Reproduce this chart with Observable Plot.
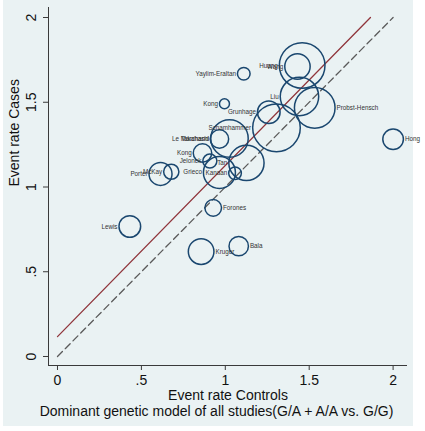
<!DOCTYPE html>
<html>
<head>
<meta charset="utf-8">
<script src="https://cdn.jsdelivr.net/npm/d3@7"></script>
<script src="https://cdn.jsdelivr.net/npm/@observablehq/plot@0.6"></script>
<style>
  html, body { margin: 0; padding: 0; background: white; }
</style>
</head>
<body>
<div id="chart"></div>
<script>
// ---- data ----
const studies = ["Huang","Wang","Yaylim-Eraltan","Kong","Liu","Probst-Hensch","Grunhage","Schamhammer","Hong","Takahashi","Le Marchand","Kong","Jelonek","Tan","Grieco","Kanaan","McKay","Porter","Forones","Lewis","Kruger","Bala"];
const rateControls = [1.458,1.430,1.110,0.995,1.442,1.533,1.259,1.305,2.000,1.025,0.965,0.864,0.908,1.126,0.965,1.058,0.678,0.614,0.928,0.431,0.856,1.080];
const rateCases    = [1.717,1.711,1.668,1.491,1.534,1.467,1.441,1.349,1.282,1.286,1.283,1.201,1.153,1.142,1.086,1.081,1.090,1.077,0.877,0.767,0.619,0.651];
const weights      = [520,161,40,25,369,412,128,566,106,350,85,85,49,310,256,40,58,132,69,117,164,94];

const fitX = [0, 1.865];
const fitY = [0.1175, 2];
const refX = [0, 2];
const refY = [0, 2];

const tickValues = [0, 0.5, 1, 1.5, 2];
const tickLabels = ["0", ".5", "1", "1.5", "2"];

const xTitle = "Event rate Controls";
const yTitle = "Event rate Cases";
const caption = "Dominant genetic model of all studies(G/A + A/A vs. G/G)";

// label placement (style): these studies are labelled to the right of their circle
const labelRight = ["Probst-Hensch","Hong","Forones","Kruger","Bala"];

// ---- build ----
const data = studies.map((s, i) => ({name: s, x: rateControls[i], y: rateCases[i], w: weights[i], right: labelRight.includes(s)}));
const fit = fitX.map((x, i) => ({x, y: fitY[i]}));
const ref = refX.map((x, i) => ({x, y: refY[i]}));
const tickFmt = new Map(tickValues.map((v, i) => [v, tickLabels[i]]));

const xDom = [-0.0536, 2.0858];
const yDom = [-0.0531, 2.059];
const rDom = [0, d3.max(weights)];
const rRange = [0, 23.8];
const rScale = d3.scaleSqrt().domain(rDom).range(rRange);

const navy = "#1a476f";
const axisColor = "#3a3a3a";
const font = "'Liberation Sans', Arial, Helvetica, sans-serif";

const labelMarks = data.map(d => Plot.text([d], {
  x: "x", y: "y", text: "name",
  textAnchor: d.right ? "start" : "end",
  dx: (d.right ? 1 : -1) * (rScale(d.w) + 1.5),
  fontSize: 6.3, fill: "#333"
}));

const plot = Plot.plot({
  width: 425,
  height: 431,
  marginLeft: 48,
  marginRight: 18,
  marginTop: 7,
  marginBottom: 66,
  style: {fontFamily: font, background: "white"},
  x: {domain: xDom},
  y: {domain: yDom},
  r: {type: "sqrt", domain: rDom, range: rRange},
  marks: [
    Plot.frame({fill: "white", stroke: null}),
    Plot.gridY(tickValues, {stroke: "#eaf2f3", strokeOpacity: 1, strokeWidth: 1.2}),
    Plot.axisX(tickValues, {tickSize: 5, tickPadding: 5, fontSize: 14, stroke: axisColor, fill: "#111", tickFormat: d => tickFmt.get(d), label: null}),
    Plot.axisY(tickValues, {tickSize: 5, tickPadding: 8, tickRotate: -90, fontSize: 14, stroke: axisColor, fill: "#111", tickFormat: d => tickFmt.get(d), label: null}),
    Plot.ruleX([xDom[0]], {stroke: axisColor, strokeWidth: 1}),
    Plot.ruleY([yDom[0]], {stroke: axisColor, strokeWidth: 1}),
    Plot.line(ref, {x: "x", y: "y", stroke: "#5a5a5a", strokeWidth: 1.3, strokeDasharray: "7,4"}),
    Plot.line(fit, {x: "x", y: "y", stroke: "#90353b", strokeWidth: 1.3}),
    Plot.dot(data, {x: "x", y: "y", r: "w", stroke: navy, strokeWidth: 1.5, fill: "none"}),
    ...labelMarks,
    Plot.text([xTitle], {frameAnchor: "bottom", dy: 34, fontSize: 14, fill: "#111"}),
    Plot.text([caption], {frameAnchor: "bottom", dy: 50, dx: -11.5, fontSize: 14, fill: "#111"}),
    Plot.text([yTitle], {frameAnchor: "left", dx: -34, rotate: -90, fontSize: 14, fill: "#111"})
  ]
});

// outer graph region background (Stata-like)
d3.select(plot).insert("rect", "g")
  .attr("x", 3).attr("y", 0).attr("width", 410).attr("height", 426)
  .attr("fill", "#eaf2f3");

document.getElementById("chart").appendChild(plot);
</script>
</body>
</html>
